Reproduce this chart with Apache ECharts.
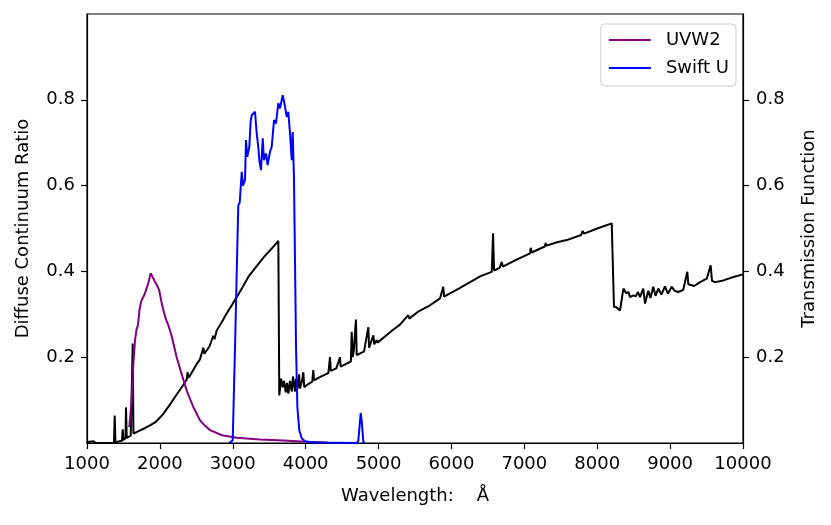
<!DOCTYPE html>
<html><head><meta charset="utf-8">
<script src="https://cdn.jsdelivr.net/npm/echarts@6/dist/echarts.min.js"></script>
<style>html,body{margin:0;padding:0;background:#fff}#c{width:831px;height:525px}</style>
</head><body><div id="c"></div>
<script>
const contWave = [1000,1030,1050,1090,1120,1370,1380,1390,1480,1490,1500,1528,1535,1545,1600,1622,1627,1637,1700,1800,1864,1950,2047,2140,2230,2300,2368,2380,2395,2450,2505,2550,2596,2610,2680,2733,2750,2779,2850,2916,2990,3054,3130,3213,3290,3374,3440,3511,3570,3625,3638,3648,3662,3685,3703,3726,3744,3762,3785,3809,3826,3854,3868,3886,3909,3922,3950,3968,3980,4040,4090,4105,4115,4174,4250,4311,4334,4345,4420,4471,4480,4560,4620,4632,4645,4660,4690,4700,4760,4800,4860,4870,4929,4940,4975,4985,5100,5200,5294,5408,5420,5550,5706,5843,5888,5900,5980,6100,6255,6400,6553,6571,6585,6660,6690,6705,6900,7078,7088,7100,7281,7293,7305,7450,7582,7780,7800,7820,8000,8199,8230,8258,8313,8359,8396,8430,8450,8495,8530,8560,8587,8632,8656,8701,8730,8769,8800,8838,8880,8930,8970,9022,9060,9113,9180,9236,9250,9274,9330,9411,9503,9556,9575,9618,9732,9869,10000];
const contRatio = [0.0,0.003,0.0,0.004,0.0,0.0,0.064,0.002,0.005,0.032,0.007,0.011,0.083,0.012,0.017,0.019,0.232,0.022,0.027,0.035,0.041,0.05,0.068,0.09,0.113,0.13,0.148,0.165,0.152,0.168,0.184,0.195,0.222,0.208,0.225,0.25,0.242,0.262,0.282,0.302,0.322,0.34,0.362,0.387,0.404,0.422,0.436,0.449,0.46,0.471,0.111,0.107,0.15,0.13,0.145,0.118,0.14,0.115,0.145,0.12,0.155,0.12,0.15,0.125,0.16,0.127,0.145,0.165,0.13,0.138,0.143,0.17,0.146,0.152,0.158,0.163,0.2,0.168,0.174,0.2,0.178,0.185,0.19,0.259,0.2,0.215,0.288,0.205,0.21,0.213,0.27,0.222,0.251,0.23,0.24,0.234,0.25,0.264,0.276,0.298,0.29,0.307,0.321,0.337,0.364,0.341,0.349,0.36,0.375,0.389,0.399,0.489,0.402,0.408,0.422,0.411,0.428,0.442,0.455,0.444,0.458,0.466,0.46,0.468,0.473,0.485,0.494,0.488,0.5,0.512,0.317,0.317,0.309,0.36,0.349,0.352,0.34,0.344,0.342,0.352,0.34,0.36,0.325,0.355,0.338,0.364,0.343,0.36,0.346,0.365,0.348,0.364,0.355,0.352,0.357,0.399,0.37,0.368,0.366,0.375,0.383,0.414,0.378,0.375,0.379,0.387,0.393];

const uvw2Wave = [1580,1600,1613,1625,1636,1659,1680,1700,1720,1741,1796,1840,1874,1905,1933,1960,1992,2020,2047,2080,2115,2160,2200,2230,2300,2368,2420,2458,2550,2620,2688,2850,3054,3374,3700,4000,4300];
const uvw2Trans = [0.037,0.075,0.1,0.15,0.185,0.24,0.265,0.275,0.31,0.329,0.349,0.372,0.396,0.385,0.376,0.368,0.355,0.33,0.31,0.29,0.275,0.25,0.222,0.2,0.16,0.122,0.1,0.084,0.053,0.04,0.03,0.018,0.012,0.008,0.006,0.003,0.001];

const swiftWave = [2950,2999,3031,3062,3076,3095,3109,3123,3140,3154,3168,3181,3199,3227,3245,3260,3282,3305,3328,3350,3364,3387,3411,3428,3456,3478,3511,3534,3566,3593,3625,3648,3685,3717,3740,3762,3785,3809,3822,3840,3854,3868,3886,3913,3946,3991,4100,4700,4722,4745,4755,4770,4791,4810];
const swiftTrans = [0.0,0.006,0.224,0.457,0.554,0.56,0.562,0.632,0.6,0.597,0.613,0.706,0.667,0.69,0.75,0.764,0.768,0.772,0.722,0.69,0.659,0.636,0.71,0.659,0.675,0.648,0.679,0.69,0.753,0.745,0.792,0.78,0.811,0.784,0.76,0.772,0.722,0.659,0.725,0.613,0.419,0.224,0.084,0.029,0.011,0.004,0.001,0.0,0.005,0.05,0.07,0.05,0.003,0.0];

const xTicks = [1000,2000,3000,4000,5000,6000,7000,8000,9000,10000];
const yTicks = [0.2,0.4,0.6,0.8];

const zip = (a,b) => a.map((v,i)=>[v,b[i]]);
const FONT = 'DejaVu Sans';
const FS = 18;
const chart = echarts.init(document.getElementById('c'), null, {renderer:'canvas'});

function yAx(pos, name, gap, margin){
  return {
    type:'value', position:pos, min:0, max:1, interval:0.2,
    name:name, nameLocation:'middle', nameGap:gap,
    nameTextStyle:{fontFamily:FONT,fontSize:FS,color:'#000'},
    axisLine:{show:true,lineStyle:{color:'#000',width:1.2}},
    axisTick:{show:true,inside:false,length:6,lineStyle:{color:'#000',width:1.2},customValues:yTicks},
    axisLabel:{show:true,margin:margin,fontFamily:FONT,fontSize:FS,color:'#000',customValues:yTicks,
      formatter:v=>v.toFixed(1)},
    splitLine:{show:false}
  };
}

chart.setOption({
  animation:false,
  backgroundColor:'#fff',
  grid:{left:87,right:88,top:14,bottom:82,show:true,borderColor:'#000',borderWidth:1.2,backgroundColor:'transparent'},
  legend:{
    orient:'vertical', right:95, top:24,
    data:['UVW2','Swift U'],
    icon:'rect', itemWidth:42, itemHeight:2, itemGap:10,
    padding:[7,7,9,8],
    borderColor:'#cccccc', borderWidth:1, borderRadius:4,
    backgroundColor:'#fff',
    textStyle:{fontFamily:FONT,fontSize:FS,color:'#000',lineHeight:18,padding:[0,0,0,10]}
  },
  xAxis:{
    type:'value', min:1000, max:10000, interval:1000,
    name:'Wavelength:    Å', nameLocation:'middle', nameGap:44,
    nameTextStyle:{fontFamily:FONT,fontSize:FS,color:'#000'},
    axisLine:{show:true,onZero:false,lineStyle:{color:'#000',width:1.2}},
    axisTick:{show:true,inside:false,length:6,lineStyle:{color:'#000',width:1.2},customValues:xTicks},
    axisLabel:{margin:12,fontFamily:FONT,fontSize:FS,color:'#000',customValues:xTicks,formatter:v=>String(v)},
    splitLine:{show:false}
  },
  yAxis:[yAx('left','Diffuse Continuum Ratio',55,12), yAx('right','Transmission Function',57,13)],
  series:[
    {name:'Continuum',type:'line',yAxisIndex:0,data:zip(contWave,contRatio),showSymbol:false,
      lineStyle:{color:'#000',width:2},itemStyle:{color:'#000'},z:2},
    {name:'UVW2',type:'line',yAxisIndex:1,data:zip(uvw2Wave,uvw2Trans),showSymbol:false,
      lineStyle:{color:'#800080',width:2},itemStyle:{color:'#800080'},z:3},
    {name:'Swift U',type:'line',yAxisIndex:1,data:zip(swiftWave,swiftTrans),showSymbol:false,
      lineStyle:{color:'#0000ff',width:2},itemStyle:{color:'#0000ff'},z:4}
  ]
});
</script></body></html>
